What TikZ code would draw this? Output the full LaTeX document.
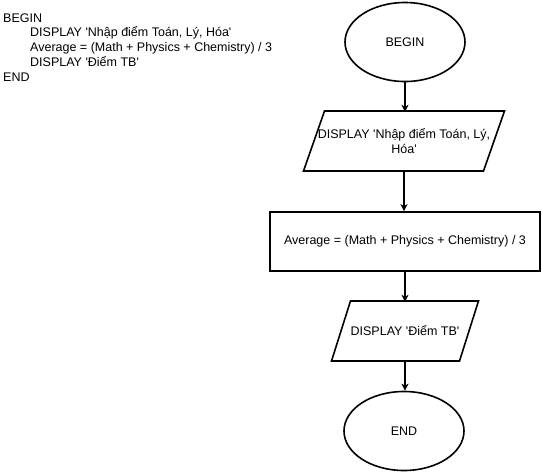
\documentclass[tikz,border=0pt]{standalone}
\usepackage{fontspec}
\setmainfont{Liberation Sans}
\usetikzlibrary{arrows.meta,shapes.geometric}
\newcommand{\sq}{\textquotesingle}
\begin{document}
\begin{tikzpicture}[x=1pt,y=-1pt,
  every node/.style={font=\fontsize{12.5}{14.4}\selectfont},
  shapeline/.style={line width=1.6pt},
  term/.style={ellipse,draw,shapeline,minimum width=120pt,minimum height=79pt,inner sep=0pt},
  procbox/.style={rectangle,draw,shapeline,minimum width=270pt,minimum height=59pt,inner sep=0pt},
  iobox/.style={rectangle,draw=none,minimum height=60pt,inner sep=0pt,outer sep=0pt,align=center},
  code/.style={anchor=base west,inner sep=0pt},
  flow/.style={line width=1.1pt,-{Stealth[length=7pt,width=7pt,inset=2pt]}}
]
\useasboundingbox (0,0) rectangle (542,472);

% pseudo-code
\node[code] (c1) at (3,22) {BEGIN};
\node[code] (c2) at (30,36.7) {DISPLAY \sq Nhập điểm Toán, Lý, Hóa\sq};
\node[code] (c3) at (30,51.5) {Average = (Math + Physics + Chemistry) / 3};
\node[code] (c4) at (30,66.2) {DISPLAY \sq Điểm TB\sq};
\node[code] (c5) at (3,81) {END};

% flowchart
\node[term] (begin) at (405,42) {BEGIN};
\node[iobox,minimum width=180pt] (in) at (404,141) {DISPLAY \sq Nhập điểm Toán, Lý,\\Hóa\sq};
\draw[shapeline] ([xshift=10.5pt]in.north west) -- ([xshift=10.5pt]in.north east)
  -- ([xshift=-10.5pt]in.south east) -- ([xshift=-10.5pt]in.south west) -- cycle;
\node[procbox] (calc) at (405,241.5) {Average = (Math + Physics + Chemistry) / 3};
\node[iobox,minimum width=128pt] (out) at (405,331) {DISPLAY \sq Điểm TB\sq};
\draw[shapeline] ([xshift=9.5pt]out.north west) -- ([xshift=9.5pt]out.north east)
  -- ([xshift=-9.5pt]out.south east) -- ([xshift=-9.5pt]out.south west) -- cycle;
\node[term] (end) at (404,431) {END};

\draw[flow] (begin.south) -- ([yshift=-0.8pt]in.north -| begin.south);
\draw[flow] (in.south) -- (calc.north -| in.south);
\draw[flow] (calc.south) -- ([yshift=-0.8pt]out.north);
\draw[flow] (out.south) -- (end.north -| out.south);
\end{tikzpicture}
\end{document}
